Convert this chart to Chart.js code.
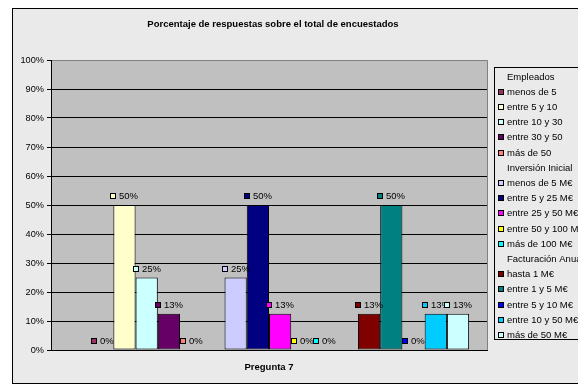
<!DOCTYPE html>
<html>
<head>
<meta charset="utf-8">
<script src="https://cdn.jsdelivr.net/npm/chart.js@4.4.0/dist/chart.umd.min.js"></script>
<style>
html,body{margin:0;padding:0;background:#fff;}
#wrap{width:578px;height:389px;position:relative;}
</style>
</head>
<body>
<div id="wrap"><canvas id="c" width="578" height="389"></canvas></div>
<script>
const chartTitle = 'Porcentaje de respuestas sobre el total de encuestados';
const categories = ['Pregunta 7'];
const seriesNames = [
  'Empleados', 'menos de 5', 'entre 5 y 10', 'entre 10 y 30', 'entre 30 y 50', 'más de 50',
  'Inversión Inicial', 'menos de 5 M€', 'entre 5 y 25 M€', 'entre 25 y 50 M€', 'entre 50 y 100 M€', 'más de 100 M€',
  'Facturación Anual', 'hasta 1 M€', 'entre 1 y 5 M€', 'entre 5 y 10 M€', 'entre 10 y 50 M€', 'más de 50 M€'
];
// percentage of respondents per series (null = group header, no bar)
const seriesValues = [
  null, 0, 50, 25, 12.5, 0,
  null, 25, 50, 12.5, 0, 0,
  null, 12.5, 50, 0, 12.5, 12.5
];
const seriesColors = [
  null, '#993366', '#FFFFCC', '#CCFFFF', '#660066', '#FF8080',
  null, '#CCCCFF', '#000080', '#FF00FF', '#FFFF00', '#00FFFF',
  null, '#800000', '#008080', '#0000FF', '#00CCFF', '#CCFFFF'
];
const yTickValues = [0, 10, 20, 30, 40, 50, 60, 70, 80, 90, 100];

const FONT = "'Liberation Sans', Arial, sans-serif";

const datasets = seriesNames.map((name, i) => ({
  label: name,
  data: [seriesValues[i]],
  backgroundColor: seriesColors[i] || 'rgba(0,0,0,0)',
  borderColor: '#000',
  borderWidth: 1,
  borderSkipped: false,
  barPercentage: 1,
  categoryPercentage: 0.918
}));

const decorPlugin = {
  id: 'decor',
  beforeDraw(chart) {
    const ctx = chart.ctx, a = chart.chartArea;
    ctx.save();
    ctx.fillStyle = '#ffffff';
    ctx.fillRect(0, 0, chart.width, chart.height);
    ctx.fillStyle = '#EAEAEA';
    ctx.fillRect(12.5, 8.5, 700, 375);
    ctx.strokeStyle = '#000';
    ctx.lineWidth = 1;
    ctx.strokeRect(12.5, 8.5, 700, 375);
    ctx.fillStyle = '#C0C0C0';
    ctx.fillRect(a.left, a.top, a.right - a.left, a.bottom - a.top);
    ctx.strokeStyle = '#808080';
    ctx.beginPath();
    ctx.moveTo(Math.round(a.left) + 0.5, Math.round(a.top) + 0.5);
    ctx.lineTo(Math.round(a.right) + 0.5, Math.round(a.top) + 0.5);
    ctx.lineTo(Math.round(a.right) + 0.5, Math.round(a.bottom) + 0.5);
    ctx.stroke();
    // title
    ctx.fillStyle = '#000';
    ctx.font = 'bold 9.5px ' + FONT;
    ctx.textAlign = 'center';
    ctx.textBaseline = 'middle';
    ctx.fillText(chartTitle, 273, 24);
    ctx.restore();
  },
  afterDatasetsDraw(chart) {
    const ctx = chart.ctx;
    ctx.save();
    ctx.font = '9.5px ' + FONT;
    ctx.textBaseline = 'middle';
    ctx.textAlign = 'left';
    chart.data.datasets.forEach((ds, i) => {
      const v = ds.data[0];
      if (v === null || v === undefined) return;
      const el = chart.getDatasetMeta(i).data[0];
      const txt = Math.round(v) + '%';
      const tw = ctx.measureText(txt).width;
      const total = 6 + 3 + tw;
      const x0 = Math.round(el.x - total / 2);
      const cy = Math.round(el.y - 9);
      ctx.fillStyle = ds.backgroundColor;
      ctx.fillRect(x0, cy - 3, 6, 6);
      ctx.strokeStyle = '#000';
      ctx.lineWidth = 1;
      ctx.strokeRect(x0 + 0.5, cy - 2.5, 5, 5);
      ctx.fillStyle = '#000';
      ctx.fillText(txt, x0 + 9, cy + 0.5);
    });
    ctx.restore();
  },
  afterDraw(chart) {
    const ctx = chart.ctx;
    ctx.save();
    // legend box
    ctx.fillStyle = '#EAEAEA';
    ctx.fillRect(494.5, 67.5, 200, 272);
    ctx.strokeStyle = '#000';
    ctx.lineWidth = 1;
    ctx.strokeRect(494.5, 67.5, 200, 272);
    ctx.font = '9.5px ' + FONT;
    ctx.textBaseline = 'middle';
    ctx.textAlign = 'left';
    chart.data.datasets.forEach((ds, i) => {
      const y = Math.round(76.5 + i * 15.2);
      if (seriesColors[i]) {
        ctx.fillStyle = ds.backgroundColor;
        ctx.fillRect(498, y - 3, 6, 6);
        ctx.strokeStyle = '#000';
        ctx.strokeRect(498.5, y - 2.5, 5, 5);
      }
      ctx.fillStyle = '#000';
      ctx.fillText(ds.label, 507, y + 0.5);
    });
    ctx.restore();
  }
};

new Chart(document.getElementById('c'), {
  type: 'bar',
  data: { labels: categories, datasets },
  plugins: [decorPlugin],
  options: {
    responsive: false,
    animation: false,
    devicePixelRatio: 1,
    layout: { padding: { left: 0, right: 91, top: 60, bottom: 0 } },
    plugins: { legend: { display: false }, title: { display: false }, tooltip: { enabled: false } },
    scales: {
      x: {
        grid: { display: false, drawTicks: false },
        border: { display: true, color: '#000', width: 1 },
        ticks: { color: '#000', font: { family: FONT, size: 9.5, weight: 'bold' }, padding: 12 },
        afterFit(s) { s.height = 39; }
      },
      y: {
        min: 0, max: 100,
        afterBuildTicks(s) { s.ticks = yTickValues.map(v => ({ value: v })); },
        grid: {
          color: (c) => (c.tick && c.tick.value === 100) ? '#808080' : '#000',
          tickColor: '#000',
          tickLength: 4,
          lineWidth: 1
        },
        border: { display: true, color: '#000', width: 1 },
        ticks: { color: '#000', font: { family: FONT, size: 9.2 }, padding: 3, callback: (v) => v + '%' },
        afterFit(s) { s.width = 51; }
      }
    }
  }
});
</script>
</body>
</html>
